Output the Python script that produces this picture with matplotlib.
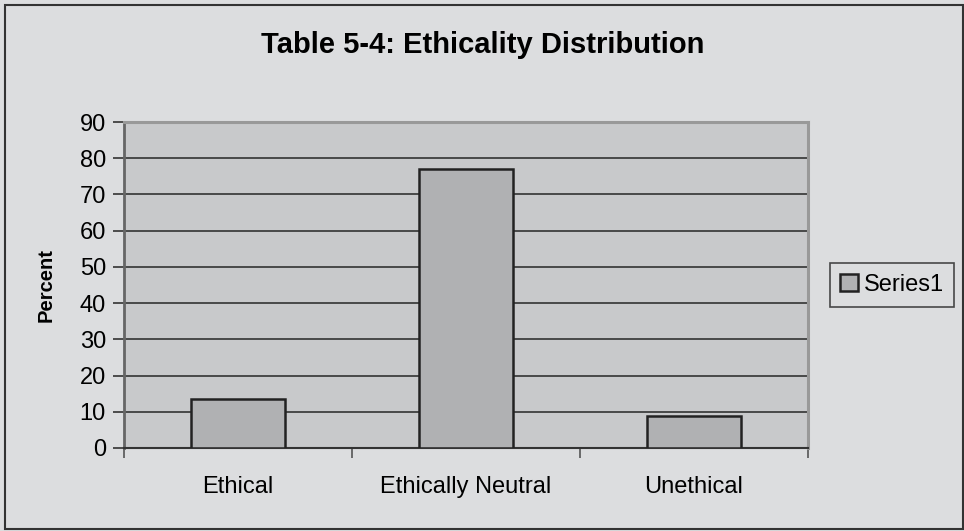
import matplotlib
matplotlib.use('Agg')
import matplotlib.pyplot as plt
from matplotlib.patches import Rectangle
import numpy as np

categories = ["Ethical", "Ethically Neutral", "Unethical"]
percent = [13.4, 77.0, 8.9]
series_name = "Series1"
y_ticks = [0, 10, 20, 30, 40, 50, 60, 70, 80, 90]

plt.rcParams['font.family'] = ['Liberation Sans', 'DejaVu Sans']

W, H = 964, 531
fig = plt.figure(figsize=(W / 100, H / 100), dpi=100)
fig.patch.set_facecolor('#dcdddf')

# outer chart frame
fig.patches.append(Rectangle((5 / W, 1 - 529 / H), 958 / W, 524 / H,
                             transform=fig.transFigure, fill=False,
                             edgecolor='#333333', linewidth=1.5))

left, right, top, bottom = 124, 808, 122, 448
ax = fig.add_axes([left / W, 1 - bottom / H, (right - left) / W, (bottom - top) / H])
ax.set_facecolor('#c8c9cb')

x = np.arange(len(categories))
ax.bar(x, percent, width=0.41, color='#b0b1b3', edgecolor='#222222',
       linewidth=1.8, label=series_name, zorder=3)

ax.set_xlim(-0.5, len(categories) - 0.5)
ax.set_ylim(0, 90)
ax.set_yticks(y_ticks)
ax.yaxis.grid(True, color='#333333', linewidth=1.2, zorder=1)
ax.set_axisbelow(True)

ax.set_xticks(x)
ax.set_xticklabels(categories, fontsize=17)
ax.tick_params(axis='x', which='major', length=0, pad=20)
ax.set_xticks(np.arange(len(categories) + 1) - 0.5, minor=True)
ax.tick_params(axis='x', which='minor', length=7, width=1.2, color='#555555')
ax.tick_params(axis='y', length=8, width=1.2, color='#333333', labelsize=17, pad=5)

for s in ['top', 'right']:
    ax.spines[s].set_color('#999999')
    ax.spines[s].set_linewidth(2.2)
ax.spines['left'].set_color('#666666')
ax.spines['left'].set_linewidth(2)
ax.spines['bottom'].set_color('#333333')
ax.spines['bottom'].set_linewidth(1.5)

ax.set_ylabel('Percent', fontsize=14.5, fontweight='bold', labelpad=17)
fig.text(483 / W, 1 - 45 / H, 'Table 5-4: Ethicality Distribution',
         ha='center', va='center', fontsize=21, fontweight='bold')

leg = fig.legend(loc='center', bbox_to_anchor=(892 / W, 1 - 285 / H),
                 fontsize=17, frameon=True, fancybox=False, handlelength=0.75,
                 handleheight=0.75, handletextpad=0.25, borderpad=0.45,
                 borderaxespad=0)
leg.get_frame().set_edgecolor('#222222')
leg.get_frame().set_facecolor('#dcdddf')
leg.get_frame().set_linewidth(1.2)

fig.savefig('out.png', dpi=100, facecolor=fig.get_facecolor())
